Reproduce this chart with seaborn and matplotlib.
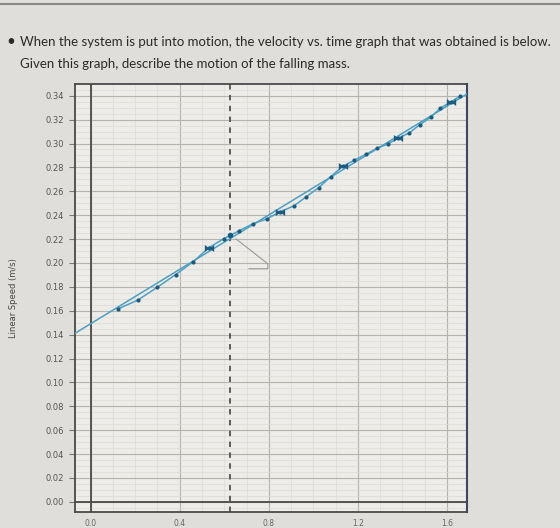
import numpy as np
import pandas as pd
import seaborn as sns
import matplotlib.pyplot as plt
from matplotlib.path import Path
from matplotlib.ticker import MultipleLocator
from matplotlib.lines import Line2D

time_s = [0.124, 0.2115, 0.299, 0.382, 0.461, 0.530, 0.598, 0.666, 0.729,
          0.791, 0.850, 0.913, 0.967, 1.024, 1.078, 1.131, 1.184, 1.237,
          1.286, 1.334, 1.382, 1.431, 1.478, 1.526, 1.570, 1.617, 1.660]
speed_ms = [0.1616, 0.1689, 0.1796, 0.1903, 0.2011, 0.2127, 0.2203, 0.2269,
            0.2328, 0.2369, 0.2428, 0.2478, 0.2553, 0.2630, 0.2723, 0.2808,
            0.2860, 0.2910, 0.2961, 0.2995, 0.3047, 0.3089, 0.3158, 0.3218,
            0.3296, 0.3348, 0.3399]
marked_idx = [5, 10, 15, 20, 25]

fit_time = [-0.08, 1.72]
fit_speed = [0.140, 0.345]

cursor_time = 0.625
cursor_speed = 0.2236

x_ticks = [0.0, 0.4, 0.8, 1.2, 1.6]
y_ticks = [0.00, 0.02, 0.04, 0.06, 0.08, 0.10, 0.12, 0.14, 0.16,
           0.18, 0.20, 0.22, 0.24, 0.26, 0.28, 0.30, 0.32, 0.34]

title_lines = ["When the system is put into motion, the velocity vs. time graph that was obtained is below.",
               "Given this graph, describe the motion of the falling mass."]

df = pd.DataFrame({"time": time_s, "speed": speed_ms})
marked = df.iloc[marked_idx]
fit = pd.DataFrame({"time": fit_time, "speed": fit_speed})

sns.set_style("white")
plt.rcParams["font.family"] = ["DejaVu Sans"]

line_col = "#4f9fc2"
dot_col = "#1d5a80"

fig = plt.figure(figsize=(5.6, 5.28), dpi=100, facecolor="#e0deda")
ax = fig.add_axes([0.134, 0.0303, 0.70, 0.811])
ax.set_facecolor("#edece8")

ax.set_xlim(-0.07, 1.69)
ax.set_ylim(-0.0085, 0.35)

# grid
ax.xaxis.set_major_locator(MultipleLocator(0.4))
ax.xaxis.set_minor_locator(MultipleLocator(0.1))
ax.yaxis.set_major_locator(MultipleLocator(0.02))
ax.yaxis.set_minor_locator(MultipleLocator(0.005))
ax.grid(True, which="major", color="#b4b3ae", lw=0.8)
ax.grid(True, which="minor", color="#dcdbd6", lw=0.5)
ax.set_axisbelow(True)

ax.axvline(0, color="#4a4a4a", lw=1.3, zorder=2)
ax.axhline(0, color="#4a4a4a", lw=1.3, zorder=2)
ax.axvline(cursor_time, color="#505050", lw=1.3, ls=(0, (3, 3)), zorder=2)

sns.lineplot(data=fit, x="time", y="speed", ax=ax, color=line_col, lw=1.1, zorder=3)
sns.lineplot(data=df, x="time", y="speed", ax=ax, color=line_col, lw=1.1, zorder=3)
sns.scatterplot(data=df, x="time", y="speed", ax=ax, color=dot_col, s=9,
                linewidth=0, zorder=4)

bowtie = Path([(-1, -0.75), (1, 0.75), (1, -0.75), (-1, 0.75), (-1, -0.75)],
              [Path.MOVETO, Path.LINETO, Path.LINETO, Path.LINETO, Path.CLOSEPOLY])
sns.scatterplot(data=marked, x="time", y="speed", ax=ax, color=dot_col,
                marker=bowtie, s=45, linewidth=0, zorder=5)
ax.scatter([cursor_time], [cursor_speed], color=dot_col, s=9, zorder=5)

# empty data-tag leader at the cursor
p = ax.transData.transform((cursor_time, cursor_speed))
leader_px = np.array([[6, -4], [38, -29], [38, -34], [19, -34]])
leader = ax.transData.inverted().transform(p + leader_px)
ax.plot(leader[:, 0], leader[:, 1], color="#9a9a96", lw=0.8, zorder=3)

ax.set_xticks(x_ticks)
ax.set_xticklabels([f"{v:.1f}" for v in x_ticks])
ax.set_yticks(y_ticks)
ax.set_yticklabels([f"{v:.2f}" for v in y_ticks])
ax.tick_params(axis="y", which="major", left=True, length=4, width=0.8,
               color="#777", pad=4, labelsize=6, labelcolor="#555")
ax.tick_params(axis="x", which="major", bottom=False, pad=1.5, labelsize=5.5,
               labelcolor="#666")
ax.tick_params(which="minor", left=False, bottom=False)

ax.set_xlabel("")
ax.set_ylabel("Linear Speed (m/s)", fontsize=6, color="#444", labelpad=20)

for side in ["left", "bottom", "top"]:
    ax.spines[side].set_color("#4a4a4a")
    ax.spines[side].set_linewidth(1.3)
ax.spines["right"].set_color("#3c4860")
ax.spines["right"].set_linewidth(1.5)

# question text above the chart
fig.add_artist(Line2D([0, 1], [0.992, 0.992], color="#8a8986", lw=1.5))
fig.text(0.012, 1 - 42 / 528, "\u2022", fontsize=11, family=["Lato", "DejaVu Sans"],
         color="#2a2a2a", va="center")
fig.text(0.036, 1 - 42 / 528, title_lines[0], fontsize=9.5, family=["Lato", "DejaVu Sans"],
         color="#2a2a2a", va="center")
fig.text(0.036, 1 - 64 / 528, title_lines[1], fontsize=9.5, family=["Lato", "DejaVu Sans"],
         color="#2a2a2a", va="center")

fig.savefig("out.png", dpi=100, facecolor=fig.get_facecolor())
